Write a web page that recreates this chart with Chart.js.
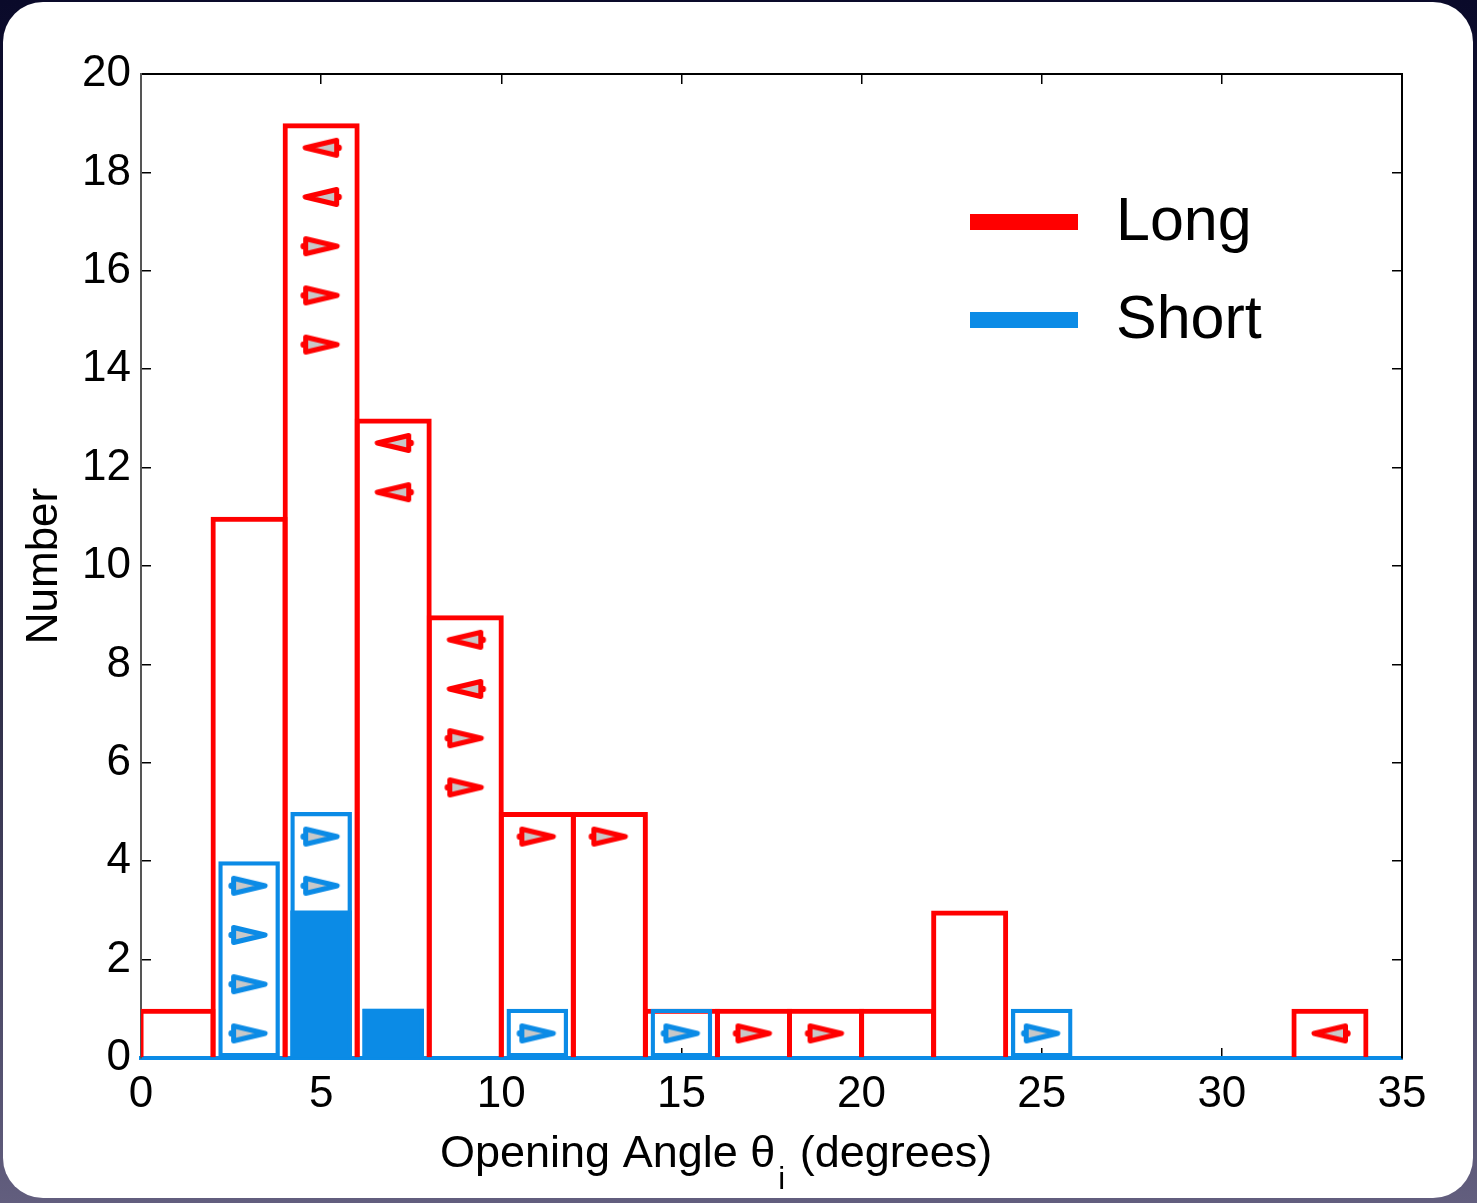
<!DOCTYPE html>
<html>
<head>
<meta charset="utf-8">
<title>Opening angle distribution</title>
<script src="https://cdn.jsdelivr.net/npm/chart.js@4.4.1/dist/chart.umd.min.js"></script>
<style>
  html, body {
    margin: 0; padding: 0; width: 1477px; height: 1203px; overflow: hidden;
    background: linear-gradient(#0a0a2a 0%, #26263f 50%, #625e7e 100%);
  }
  #card {
    position: absolute; left: 3px; top: 2px; width: 1470px; height: 1196px;
    background: #fff; border-radius: 40px;
  }
  #c { position: absolute; left: 0; top: 0; }
</style>
</head>
<body>
<div id="card"></div>
<canvas id="c" width="1477" height="1203"></canvas>
<script>
// Histogram bins: 2-degree bins, given by their centres
const binCenters = [1, 3, 5, 7, 9, 11, 13, 15, 17, 19, 21, 23, 25, 27, 29, 31, 33];
// Long bursts, all opening angles (incl. limits)
const longCounts = [1, 11, 19, 13, 9, 5, 5, 1, 1, 1, 1, 3, 0, 0, 0, 0, 1];
// Short bursts, all opening angles (incl. limits)
const shortCounts = [0, 4, 5, 1, 0, 1, 0, 1, 0, 0, 0, 0, 1, 0, 0, 0, 0];
// Short bursts with a measured opening angle
const shortMeasured = [0, 0, 3, 1, 0, 0, 0, 0, 0, 0, 0, 0, 0, 0, 0, 0, 0];

// Limit markers: bin centre and the row they sit in
const longUpperX = [5, 5, 7, 7, 9, 9, 33];
const longUpperY = [18.5, 17.5, 12.5, 11.5, 8.5, 7.5, 0.5];
const longLowerX = [5, 5, 5, 9, 9, 11, 13, 17, 19];
const longLowerY = [16.5, 15.5, 14.5, 6.5, 5.5, 4.5, 4.5, 0.5, 0.5];
const shortLowerX = [3, 3, 3, 3, 5, 5, 11, 15, 25];
const shortLowerY = [3.5, 2.5, 1.5, 0.5, 4.5, 3.5, 0.5, 0.5, 0.5];

// Axis ticks
const xTickValues = [0, 5, 10, 15, 20, 25, 30, 35];
const yTickValues = [0, 2, 4, 6, 8, 10, 12, 14, 16, 18, 20];

const FONT = '"Liberation Sans", Arial, Helvetica, sans-serif';
const RED = '#ff0000';
const BLUE = '#0b8be6';
const GREY = '#c8c8c8';

function pts(xs, ys) {
  return xs.map((x, i) => ({ x: x, y: ys[i] }));
}

// Elongated open-triangle marker used for limits (dir = 1 points right, -1 points left)
function arrowMarker(color, dir) {
  const c = document.createElement('canvas');
  c.width = 48; c.height = 28;
  const g = c.getContext('2d');
  g.translate(24, 14);
  g.scale(dir, 1);
  g.lineWidth = 5;
  g.lineJoin = 'round';
  g.lineCap = 'round';
  g.strokeStyle = color;
  g.fillStyle = GREY;
  g.beginPath();
  g.moveTo(-15.5, -7.5);
  g.lineTo(16, 0);
  g.lineTo(-15.5, 7.5);
  g.closePath();
  g.fill();
  g.stroke();
  g.beginPath();
  g.arc(-17.5, 0, 3.2, 0, Math.PI * 2);
  g.fillStyle = color;
  g.fill();
  return c;
}

function setTicks(values) {
  return scale => { scale.ticks = values.map(v => ({ value: v })); };
}

const tickGrid = { drawOnChartArea: false, offset: false, tickLength: -10, color: '#000', lineWidth: 1.5 };

// Legend and the x-axis label (with its subscript) drawn on top of the chart
const overlay = {
  id: 'overlay',
  afterDraw(chart) {
    const ctx = chart.ctx;
    ctx.save();
    const entries = chart.data.datasets
      .filter(d => d.legendRank !== undefined)
      .sort((a, b) => a.legendRank - b.legendRank);
    entries.forEach((d, i) => {
      const y = 222 + i * 98;
      ctx.fillStyle = d.borderColor;
      ctx.fillRect(970, y - 8, 108, 16);
      ctx.fillStyle = '#000';
      ctx.font = '61px ' + FONT;
      ctx.textAlign = 'left';
      ctx.textBaseline = 'middle';
      ctx.fillText(d.label, 1116, y + 1);
    });

    ctx.fillStyle = '#000';
    ctx.textAlign = 'left';
    ctx.textBaseline = 'alphabetic';
    const base = 1167;
    let x = 440;
    ctx.font = '45px ' + FONT;
    const main = 'Opening Angle \u03b8';
    ctx.fillText(main, x, base);
    x += ctx.measureText(main).width + 3;
    ctx.font = '31px ' + FONT;
    ctx.fillText('i', x, base + 22);
    x += ctx.measureText('i').width + 2;
    ctx.font = '45px ' + FONT;
    ctx.fillText(' (degrees)', x, base);
    ctx.restore();
  }
};

new Chart(document.getElementById('c'), {
  type: 'scatter',
  data: {
    datasets: [
      {
        type: 'scatter', label: 'Long upper limits',
        data: pts(longUpperX, longUpperY),
        pointStyle: arrowMarker(RED, -1), pointRadius: 10, order: 0
      },
      {
        type: 'scatter', label: 'Long lower limits',
        data: pts(longLowerX, longLowerY),
        pointStyle: arrowMarker(RED, 1), pointRadius: 10, order: 0
      },
      {
        type: 'scatter', label: 'Short lower limits',
        data: pts(shortLowerX, shortLowerY),
        pointStyle: arrowMarker(BLUE, 1), pointRadius: 10, order: 0
      },
      {
        type: 'bar', label: 'Short', legendRank: 1,
        data: pts(binCenters, shortCounts),
        backgroundColor: 'rgba(0,0,0,0)', borderColor: BLUE, borderWidth: 4.3,
        borderSkipped: false, barPercentage: 0.855, categoryPercentage: 1,
        grouped: false, order: 1
      },
      {
        type: 'bar', label: 'Short measured',
        data: pts(binCenters, shortMeasured),
        backgroundColor: BLUE, borderWidth: 0,
        barPercentage: 0.855, categoryPercentage: 1,
        grouped: false, order: 2
      },
      {
        type: 'bar', label: 'Long', legendRank: 0,
        data: pts(binCenters, longCounts),
        backgroundColor: 'rgba(0,0,0,0)', borderColor: RED, borderWidth: 5,
        borderSkipped: 'start', barPercentage: 1.069, categoryPercentage: 1,
        grouped: false, order: 3
      }
    ]
  },
  options: {
    responsive: false,
    animation: false,
    events: [],
    layout: { padding: { left: 0, top: 74, right: 75, bottom: 0 } },
    plugins: { legend: { display: false }, tooltip: { enabled: false } },
    scales: {
      x: {
        type: 'linear', position: 'bottom', min: 0, max: 35, offset: false,
        afterBuildTicks: setTicks(xTickValues),
        ticks: { font: { family: FONT, size: 44 }, color: '#000', padding: 20, maxRotation: 0, autoSkip: false },
        grid: tickGrid,
        border: { color: BLUE, width: 4 },
        afterFit: s => { s.height = 145; }
      },
      x2: {
        type: 'linear', position: 'top', min: 0, max: 35, offset: false,
        afterBuildTicks: setTicks(xTickValues),
        ticks: { display: false },
        grid: tickGrid,
        border: { color: '#000', width: 2 },
        afterFit: s => { s.height = 0; }
      },
      y: {
        type: 'linear', position: 'left', min: 0, max: 20,
        afterBuildTicks: setTicks(yTickValues),
        ticks: { font: { family: FONT, size: 44 }, color: '#000', padding: 20, autoSkip: false },
        title: { display: true, text: 'Number', color: '#000', font: { family: FONT, size: 44 }, padding: { top: 18, bottom: 0 } },
        grid: tickGrid,
        border: { color: '#555', width: 2 },
        afterFit: s => { s.width = 141; }
      },
      y2: {
        type: 'linear', position: 'right', min: 0, max: 20,
        afterBuildTicks: setTicks(yTickValues),
        ticks: { display: false },
        grid: tickGrid,
        border: { color: '#000', width: 2 },
        afterFit: s => { s.width = 0; }
      }
    }
  },
  plugins: [overlay]
});
</script>
</body>
</html>
